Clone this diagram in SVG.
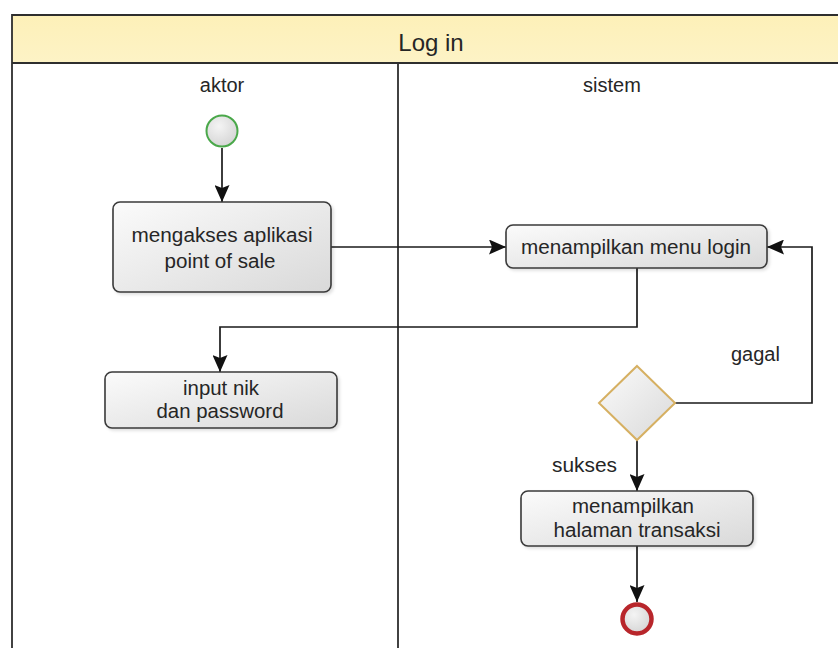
<svg xmlns="http://www.w3.org/2000/svg" width="838" height="648" viewBox="0 0 838 648">
<style>
text{font-family:"Liberation Sans",Arial,sans-serif;fill:#262626;}
.lbl{font-size:20px;text-anchor:middle;}
.title{font-size:24px;text-anchor:middle;}
.box{fill:url(#gBox);stroke:#3a3a3a;stroke-width:1.6;filter:url(#sh);}
.con{fill:none;stroke:#1a1a1a;stroke-width:1.7;}
.frame{fill:none;stroke:#2e2e2e;stroke-width:1.8;}
</style>
<defs>
<linearGradient id="gBox" x1="0" y1="0" x2="1" y2="1">
<stop offset="0" stop-color="#fbfbfb"/>
<stop offset="1" stop-color="#d9d9d9"/>
</linearGradient>
<linearGradient id="gHead" x1="0" y1="0" x2="0" y2="1">
<stop offset="0" stop-color="#fdf0b8"/>
<stop offset="1" stop-color="#fdf3c6"/>
</linearGradient>
<radialGradient id="gCirc" cx="0.4" cy="0.35" r="0.7">
<stop offset="0" stop-color="#f4f4f4"/>
<stop offset="1" stop-color="#d4d4d4"/>
</radialGradient>
<filter id="sh" x="-10%" y="-10%" width="125%" height="130%">
<feDropShadow dx="2" dy="2" stdDeviation="1.5" flood-color="#000" flood-opacity="0.12"/>
</filter>
<marker id="arr" markerUnits="userSpaceOnUse" viewBox="0 0 17 15" markerWidth="17" markerHeight="15" refX="17" refY="7.5" orient="auto">
<path d="M0,0 L17,7.5 L0,15 L3,7.5 z" fill="#111"/>
</marker>
</defs>

<g id="pool">
<rect x="12" y="15" width="840" height="48" fill="url(#gHead)"/>
<path class="frame" d="M12,648 V15 H852 M12,63 H852 M398,63 V648"/>
<text class="title" x="431" y="51">Log in</text>
<text class="lbl" x="222" y="92">aktor</text>
<text class="lbl" x="612" y="92">sistem</text>
</g>

<g id="connectors">
<path class="con" d="M222,148 V202" marker-end="url(#arr)"/>
<path class="con" d="M331,247 H506" marker-end="url(#arr)"/>
<path class="con" d="M637,268 V327 H220 V372" marker-end="url(#arr)"/>
<path class="con" d="M675,403 H812 V247 H767" marker-end="url(#arr)"/>
<path class="con" d="M637,440 V491" marker-end="url(#arr)"/>
<path class="con" d="M637,546 V602" marker-end="url(#arr)"/>
<text x="731" y="361" style="font-size:20px">gagal</text>
<text x="552" y="472" style="font-size:20px" textLength="65" lengthAdjust="spacingAndGlyphs">sukses</text>
</g>

<g id="start">
<circle cx="222" cy="131" r="15.5" fill="url(#gCirc)" stroke="#4aa84a" stroke-width="2"/>
</g>

<g id="akses">
<rect class="box" x="113" y="202" width="218" height="90" rx="7"/>
<text class="lbl" x="222" y="242" textLength="181" lengthAdjust="spacingAndGlyphs">mengakses aplikasi</text>
<text class="lbl" x="220" y="268" textLength="111" lengthAdjust="spacingAndGlyphs">point of sale</text>
</g>

<g id="menu">
<rect class="box" x="506" y="225" width="261" height="43" rx="7"/>
<text class="lbl" x="636" y="254" textLength="230" lengthAdjust="spacingAndGlyphs">menampilkan menu login</text>
</g>

<g id="input">
<rect class="box" x="105" y="372" width="232" height="56" rx="7"/>
<text class="lbl" x="221" y="395" textLength="76" lengthAdjust="spacingAndGlyphs">input nik</text>
<text class="lbl" x="220" y="418" textLength="127" lengthAdjust="spacingAndGlyphs">dan password</text>
</g>

<g id="decision">
<polygon points="637,366 675,403 637,440 599,403" fill="url(#gBox)" stroke="#d6b062" stroke-width="2"/>
</g>

<g id="transaksi">
<rect class="box" x="521" y="491" width="232" height="55" rx="7"/>
<text class="lbl" x="633" y="513" textLength="122" lengthAdjust="spacingAndGlyphs">menampilkan</text>
<text class="lbl" x="637" y="537" textLength="167" lengthAdjust="spacingAndGlyphs">halaman transaksi</text>
</g>

<g id="end">
<circle cx="637" cy="619" r="14.5" fill="url(#gCirc)" stroke="#b8262b" stroke-width="4.5"/>
</g>
</svg>
